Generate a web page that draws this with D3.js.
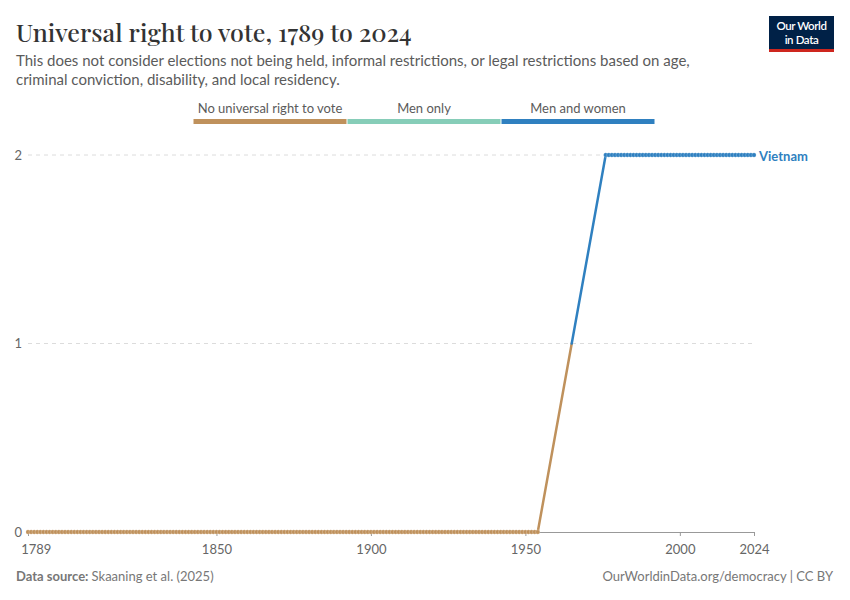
<!DOCTYPE html>
<html>
<head>
<meta charset="utf-8">
<script src="https://cdn.jsdelivr.net/npm/d3@7"></script>
<style>
  body { margin: 0; background: #fff; }
  text { font-family: Lato, "Noto Sans", sans-serif; }
</style>
</head>
<body>
<div id="chart"></div>
<script>
// Runs of constant value (years are inclusive)
const runs = [
    {start: 1789, end: 1954, value: 0},
    {start: 1976, end: 2024, value: 2}
];
const categories = ["No universal right to vote", "Men only", "Men and women"];
const categoryColors = ["#bf915c", "#86cdb8", "#2f80c0"];
const xTicks = [1789, 1850, 1900, 1950, 2000, 2024];
const yTicks = [0, 1, 2];
const entity = "Vietnam";

const width = 850, height = 600;
const margin = {top: 155, right: 96, bottom: 68, left: 28};

const svg = d3.select("#chart").append("svg")
    .attr("width", width)
    .attr("height", height);

// Header
svg.append("text")
    .attr("x", 16).attr("y", 42)
    .style("font-family", "'Playfair Display', 'Liberation Serif', 'DejaVu Serif', serif")
    .style("font-size", "25px")
    .style("font-weight", 500)
    .attr("fill", "#333")
    .text("Universal right to vote, 1789 to 2024");

const subtitle = [
    "This does not consider elections not being held, informal restrictions, or legal restrictions based on age,",
    "criminal conviction, disability, and local residency."
];
svg.selectAll(".subtitle")
    .data(subtitle)
    .join("text")
    .attr("class", "subtitle")
    .attr("x", 16)
    .attr("y", (d, i) => 66 + i * 19)
    .style("font-size", "15px")
    .attr("fill", "#5b5b5b")
    .text(d => d);

// Logo
const logo = svg.append("g").attr("transform", "translate(769,16)");
logo.append("rect").attr("width", 65).attr("height", 36).attr("fill", "#002147");
logo.append("rect").attr("y", 33).attr("width", 65).attr("height", 3).attr("fill", "#ce261e");
logo.selectAll("text")
    .data(["Our World", "in Data"])
    .join("text")
    .attr("x", 32.5)
    .attr("y", (d, i) => 14 + i * 14)
    .attr("text-anchor", "middle")
    .attr("fill", "#fff")
    .style("font-size", "11.5px")
    .style("font-weight", 600)
    .style("letter-spacing", "-0.4px")
    .text(d => d);

// Scales
const x = d3.scaleLinear()
    .domain([1789, 2024])
    .range([margin.left, width - margin.right]);
const y = d3.scaleLinear()
    .domain([0, 2])
    .range([height - margin.bottom, margin.top]);

// Legend
const legendW = 154;
const legendX = d3.scaleBand()
    .domain(categories)
    .range([193, 193 + legendW * 3]);
const legend = svg.append("g");
legend.selectAll("rect")
    .data(categories)
    .join("rect")
    .attr("x", d => legendX(d) + 0.5)
    .attr("y", 119)
    .attr("width", legendX.bandwidth() - 1)
    .attr("height", 5)
    .attr("fill", (d, i) => categoryColors[i]);
legend.selectAll("text")
    .data(categories)
    .join("text")
    .attr("x", d => legendX(d) + legendX.bandwidth() / 2)
    .attr("y", 113)
    .attr("text-anchor", "middle")
    .style("font-size", "13px")
    .attr("fill", "#5b5b5b")
    .text(d => d);

// Gridlines
svg.append("g")
    .selectAll("line")
    .data(yTicks.filter(d => d > 0))
    .join("line")
    .attr("x1", margin.left)
    .attr("x2", width - margin.right)
    .attr("y1", d => y(d))
    .attr("y2", d => y(d))
    .attr("stroke", "#dcdcdc")
    .attr("stroke-dasharray", "4,4");

// Y labels
svg.append("g")
    .selectAll("text")
    .data(yTicks)
    .join("text")
    .attr("x", 22)
    .attr("y", d => y(d))
    .attr("dy", "0.35em")
    .attr("text-anchor", "end")
    .style("font-size", "13px")
    .attr("fill", "#666")
    .text(d => d);

// X axis
const xAxis = svg.append("g")
    .attr("transform", `translate(0,${y(0)})`)
    .call(d3.axisBottom(x).tickValues(xTicks).tickFormat(d3.format("d")).tickSize(4).tickSizeOuter(0));
xAxis.select(".domain").attr("stroke", "#999");
xAxis.selectAll(".tick line").attr("stroke", "#999");
xAxis.selectAll(".tick text")
    .attr("fill", "#666")
    .style("font-size", "13px")
    .style("font-family", "Lato, sans-serif")
    .attr("dy", "1.15em");
xAxis.selectAll(".tick text").filter(d => d === 1789).attr("dx", "0.6em");

// Data points
const points = runs.flatMap(r => d3.range(r.start, r.end + 1).map(yr => ({year: yr, value: r.value})));
const color = v => categoryColors[v];

// Line segments, split where a segment crosses a category boundary
const segs = [];
for (let i = 1; i < points.length; i++) {
    const a = points[i - 1], b = points[i];
    if (a.value === b.value) {
        segs.push({a, b, c: color(a.value)});
    } else {
        const mid = {year: (a.year + b.year) / 2, value: (a.value + b.value) / 2};
        segs.push({a, b: mid, c: color(a.value)});
        segs.push({a: mid, b, c: color(b.value)});
    }
}
svg.append("g")
    .selectAll("line")
    .data(segs)
    .join("line")
    .attr("x1", d => x(d.a.year))
    .attr("y1", d => y(d.a.value))
    .attr("x2", d => x(d.b.year))
    .attr("y2", d => y(d.b.value))
    .attr("stroke", d => d.c)
    .attr("stroke-width", 2.5)
    .attr("stroke-linecap", "round");

svg.append("g")
    .selectAll("circle")
    .data(points)
    .join("circle")
    .attr("cx", d => x(d.year))
    .attr("cy", d => y(d.value))
    .attr("r", 2.2)
    .attr("fill", d => color(d.value))
    .attr("stroke", "#fff")
    .attr("stroke-width", 0.4)
    .attr("stroke-opacity", 0.6);

// Entity label
const last = points[points.length - 1];
svg.append("text")
    .attr("x", x(last.year) + 5)
    .attr("y", y(last.value) + 1.5)
    .attr("dy", "0.35em")
    .style("font-size", "13px")
    .style("font-weight", 700)
    .attr("fill", color(last.value))
    .text(entity);

// Footer
const src = svg.append("text")
    .attr("x", 16).attr("y", 581)
    .style("font-size", "13px")
    .attr("fill", "#777");
src.append("tspan").style("font-weight", 700).text("Data source: ");
src.append("tspan").text("Skaaning et al. (2025)");

svg.append("text")
    .attr("x", 833).attr("y", 581)
    .attr("text-anchor", "end")
    .style("font-size", "13px")
    .attr("fill", "#777")
    .text("OurWorldinData.org/democracy | CC BY");
</script>
</body>
</html>
